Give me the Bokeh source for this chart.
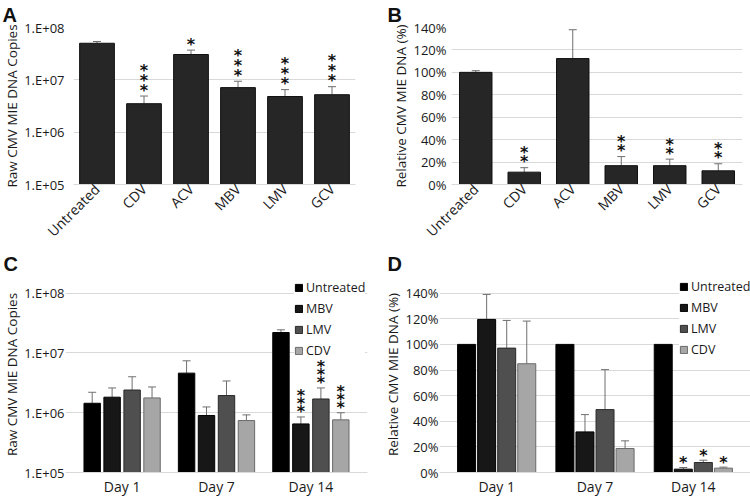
import math
from bokeh.plotting import figure
from bokeh.models import (Range1d, FactorRange, FixedTicker, CustomJSTickFormatter,
                          PrintfTickFormatter, Whisker, TeeHead, ColumnDataSource,
                          Legend, LegendItem)
from bokeh.transform import dodge
from bokeh.layouts import column, row
from bokeh.embed import file_html
from bokeh.resources import INLINE
from bokeh.core.properties import value

# ---------------- data ----------------
drugs = ["Untreated", "CDV", "ACV", "MBV", "LMV", "GCV"]
raw_copies = [5.0e7, 3.5e6, 3.05e7, 7.1e6, 4.8e6, 5.2e6]
raw_copies_err = [5.4e7, 4.9e6, 3.7e7, 9.4e6, 6.5e6, 7.4e6]
raw_stars = [0, 3, 1, 3, 3, 3]

rel_dna = [100, 11.0, 112.3, 16.8, 16.8, 12.2]
rel_dna_err = [101.5, 15.0, 138, 24.9, 22.6, 18.5]
rel_stars = [0, 2, 0, 2, 2, 2]

days = ["Day 1", "Day 7", "Day 14"]
series = ["Untreated", "MBV", "LMV", "CDV"]

time_raw = {
    "Untreated": [1.44e6, 4.6e6, 2.2e7],
    "MBV": [1.82e6, 9.0e5, 6.5e5],
    "LMV": [2.4e6, 1.94e6, 1.7e6],
    "CDV": [1.77e6, 7.4e5, 7.6e5],
}
time_raw_err = {
    "Untreated": [2.2e6, 7.4e6, 2.44e7],
    "MBV": [2.6e6, 1.25e6, 8.5e5],
    "LMV": [4.0e6, 3.4e6, 2.6e6],
    "CDV": [2.7e6, 9.2e5, 1.0e6],
}
time_raw_stars = {"Untreated": [0, 0, 0], "MBV": [0, 0, 3], "LMV": [0, 0, 3], "CDV": [0, 0, 3]}

time_rel = {
    "Untreated": [100, 100, 100],
    "MBV": [119.5, 31.7, 2.6],
    "LMV": [97.1, 49.1, 7.8],
    "CDV": [84.9, 18.7, 3.4],
}
time_rel_err = {
    "Untreated": [100, 100, 100],
    "MBV": [139, 45.2, 3.9],
    "LMV": [118.7, 80.3, 9.6],
    "CDV": [118.2, 24.7, 4.2],
}
time_rel_stars = {"Untreated": [0, 0, 0], "MBV": [0, 0, 1], "LMV": [0, 0, 1], "CDV": [0, 0, 1]}

# ---------------- style ----------------
FONT = "Open Sans"
TXT = "#1a1a1a"
GRID = "#d9d9d9"
ERR = "#6f6f6f"
BAR = "#262626"
fills = {"Untreated": "#000000", "MBV": "#171717", "LMV": "#4f4f4f", "CDV": "#a6a6a6"}
lines = {"Untreated": "#000000", "MBV": "#000000", "LMV": "#2a2a2a", "CDV": "#6a6a6a"}

log_fmt = CustomJSTickFormatter(code="""
const e = Math.round(Math.log10(tick));
return '1.E+' + (e < 10 ? '0' : '') + e;
""")


def base_style(p, ystand):
    p.outline_line_color = None
    p.background_fill_color = "white"
    p.border_fill_color = "white"
    p.xgrid.grid_line_color = None
    p.ygrid.grid_line_color = GRID
    p.ygrid.grid_line_width = 1
    p.yaxis.axis_line_color = None
    p.xaxis.axis_line_color = GRID
    for ax in (p.xaxis[0], p.yaxis[0]):
        ax.major_tick_line_color = None
        ax.minor_tick_line_color = None
        ax.major_tick_out = 0
        ax.major_tick_in = 0
        ax.minor_tick_out = 0
        ax.minor_tick_in = 0
        ax.major_label_text_font = FONT
        ax.major_label_text_font_size = "14px"
        ax.major_label_text_color = TXT
        ax.axis_label_text_font = FONT
        ax.axis_label_text_font_size = "13.5px"
        ax.axis_label_text_font_style = "normal"
        ax.axis_label_text_color = TXT
    p.yaxis.major_label_text_font_size = "13px"
    p.yaxis.major_label_standoff = ystand
    p.yaxis.axis_label_standoff = 0


def letter(p, txt, offset):
    p.title.text = txt
    p.title.align = "left"
    p.title.offset = offset
    p.title.standoff = 0
    p.title.vertical_align = "top"
    p.title.text_font = "Liberation Sans"
    p.title.text_font_style = "bold"
    p.title.text_font_size = "20px"
    p.title.text_color = "#111111"


def add_stars(p, xs, ys, counts, xfield, first=-6, step=9.5):
    n = max(counts) if counts else 0
    for k in range(n):
        sx = [x for x, c in zip(xs, counts) if c > k]
        sy = [y for y, c in zip(ys, counts) if c > k]
        if not sx:
            continue
        src = ColumnDataSource(dict(x=sx, y=sy, t=["*"] * len(sx)))
        p.text(x=xfield, y="y", text="t", source=src, text_align="center",
               text_baseline="middle", text_font=value("DejaVu Sans"),
               text_font_style="bold", text_font_size="16px", text_color="#111111",
               y_offset=first - k * step)


# ---------------- Panel A ----------------
pA = figure(width=375, height=250, x_range=FactorRange(*drugs), y_axis_type="log",
            y_range=Range1d(1e5, 1e8), output_backend="svg", toolbar_location=None,
            min_border_left=72, min_border_right=20, min_border_top=27, min_border_bottom=64)
base_style(pA, 9)
srcA = ColumnDataSource(dict(x=drugs, v=raw_copies, e=raw_copies_err))
pA.vbar(x="x", top="v", bottom=1e5, width=0.74, source=srcA, fill_color=BAR, line_color="#111111")
pA.add_layout(Whisker(source=srcA, base="x", upper="e", lower="v", line_color=ERR,
                      upper_head=TeeHead(size=8, line_color=ERR), lower_head=None))
add_stars(pA, drugs, raw_copies_err, raw_stars, "x", first=-6, step=10)
pA.yaxis.ticker = FixedTicker(ticks=[1e5, 1e6, 1e7, 1e8])
pA.yaxis.formatter = log_fmt
pA.yaxis.axis_label = "Raw CMV MIE DNA Copies"
pA.xaxis.major_label_orientation = math.pi / 4
pA.xaxis.major_label_standoff = 2
letter(pA, "A", -71)

# ---------------- Panel B ----------------
pB = figure(width=375, height=250, x_range=FactorRange(*drugs), y_range=Range1d(0, 140),
            output_backend="svg", toolbar_location=None,
            min_border_left=76, min_border_right=8, min_border_top=25, min_border_bottom=64)
base_style(pB, 5)
srcB = ColumnDataSource(dict(x=drugs, v=rel_dna, e=rel_dna_err))
pB.vbar(x="x", top="v", width=0.67, source=srcB, fill_color=BAR, line_color="#111111")
pB.add_layout(Whisker(source=srcB, base="x", upper="e", lower="v", line_color=ERR,
                      upper_head=TeeHead(size=8, line_color=ERR), lower_head=None))
add_stars(pB, drugs, rel_dna_err, rel_stars, "x", first=-6, step=9)
pB.yaxis.ticker = FixedTicker(ticks=list(range(0, 141, 20)))
pB.yaxis.formatter = PrintfTickFormatter(format="%d%%")
pB.yaxis.axis_label = "Relative CMV MIE DNA (%)"
pB.xaxis.major_label_orientation = math.pi / 4
pB.xaxis.major_label_standoff = 2
letter(pB, "B", -64)


# ---------------- Panels C and D ----------------
def grouped(p, vals, errs, stars, offsets, bar_w, legend_xy, show_err):
    items = []
    for s in series:
        src = ColumnDataSource(dict(day=days, v=vals[s], e=errs[s]))
        xf = dodge("day", offsets[s], range=p.x_range)
        r = p.vbar(x=xf, top="v", bottom=p.y_range.start, width=bar_w, source=src,
                   fill_color=fills[s], line_color=lines[s])
        items.append(LegendItem(label=s, renderers=[r]))
        if show_err[s]:
            p.add_layout(Whisker(source=src, base=xf, upper="e", lower="v", line_color=ERR,
                                 upper_head=TeeHead(size=8, line_color=ERR), lower_head=None))
        add_stars(p, days, errs[s], stars[s], dodge("x", offsets[s], range=p.x_range),
                  first=-5, step=8)
    leg = Legend(items=items, location=legend_xy, glyph_width=9, glyph_height=9,
                 label_text_font=FONT, label_text_font_size="12.5px", label_text_color=TXT,
                 label_standoff=3, label_height=20, spacing=1, padding=0, margin=0,
                 border_line_color=None, background_fill_color="white",
                 background_fill_alpha=1.0)
    p.add_layout(leg)


offC = {"Untreated": -0.317, "MBV": -0.106, "LMV": 0.106, "CDV": 0.317}
pC = figure(width=375, height=249,
            x_range=FactorRange(*days, range_padding=0.0998, range_padding_units="absolute"),
            y_axis_type="log", y_range=Range1d(1e5, 1.905e8), output_backend="svg",
            toolbar_location=None,
            min_border_left=64, min_border_right=8, min_border_top=26, min_border_bottom=27)
base_style(pC, 1)
grouped(pC, time_raw, time_raw_err, time_raw_stars, offC, 0.174, (229, 112),
        {"Untreated": True, "MBV": True, "LMV": True, "CDV": True})
pC.yaxis.ticker = FixedTicker(ticks=[1e5, 1e6, 1e7, 1e8])
pC.yaxis.formatter = log_fmt
pC.yaxis.axis_label = "Raw CMV MIE DNA Copies"
pC.xaxis.major_label_standoff = 4
letter(pC, "C", -62)

offD = {"Untreated": -0.306, "MBV": -0.102, "LMV": 0.102, "CDV": 0.306}
pD = figure(width=375, height=249,
            x_range=FactorRange(*days, range_padding=0.0815, range_padding_units="absolute"),
            y_range=Range1d(0, 153), output_backend="svg", toolbar_location=None,
            min_border_left=64, min_border_right=0, min_border_top=26, min_border_bottom=27)
base_style(pD, 1)
grouped(pD, time_rel, time_rel_err, time_rel_stars, offD, 0.183, (240, 113),
        {"Untreated": False, "MBV": True, "LMV": True, "CDV": True})
pD.yaxis.ticker = FixedTicker(ticks=list(range(0, 141, 20)))
pD.yaxis.formatter = PrintfTickFormatter(format="%d%%")
pD.yaxis.axis_label = "Relative CMV MIE DNA (%)"
pD.xaxis.major_label_standoff = 4
letter(pD, "D", -52)

layout = column(row(pA, pB), row(pC, pD))
open("out.html", "w").write(file_html(layout, INLINE))
